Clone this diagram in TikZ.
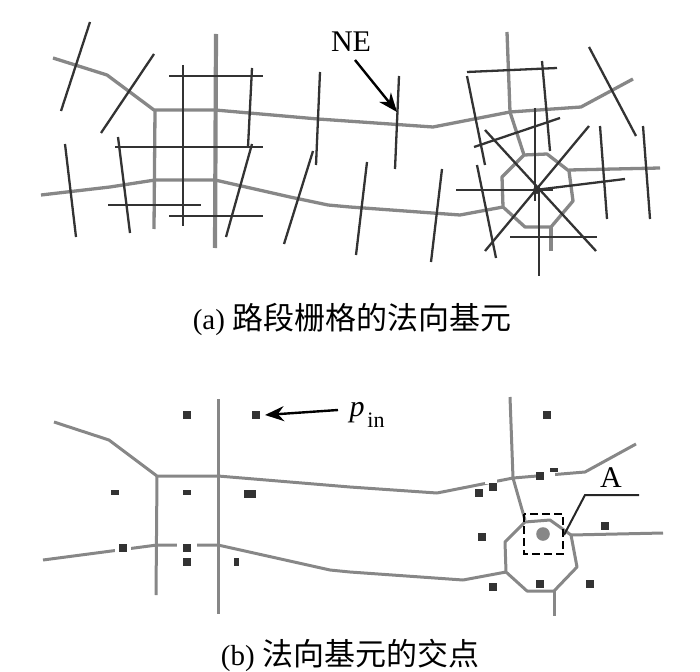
\documentclass[tikz,border=0pt]{standalone}
\usepackage{fontspec}
\setmainfont{Liberation Serif}
\newfontfamily\cjk{Noto Sans CJK SC}
\usetikzlibrary{arrows.meta}
\definecolor{roadc}{gray}{0.53}
\definecolor{normc}{gray}{0.2}
\tikzset{
  road/.style={draw=roadc,line width=3.3pt,line join=round},
  roadb/.style={draw=roadc,line width=3pt,line join=round},
  normal/.style={draw=normc,line width=2.3pt},
  lab/.style={font=\fontsize{30}{32}\selectfont,inner sep=0pt},
  capt/.style={inner sep=0pt,anchor=base,font=\fontsize{29}{32}\selectfont},
  arr/.style={draw=black,line width=2.4pt,-{Stealth[length=19pt,width=15pt]}},
}
\newcommand{\rc}[4]{\fill[normc] (#1-#3/2,#2-#4/2) rectangle ++(#3,#4);}
\newcommand{\wc}[4]{\fill[white] (#1-#3/2,#2-#4/2) rectangle ++(#3,#4);}
\begin{document}
\begin{tikzpicture}[x=1pt,y=-1pt]
\useasboundingbox (0,0) rectangle (700,671);
% (a) roads
\draw[road] (53,58)--(107,75)--(154,110)--(215,110)--(318,119)--(433,127)--(510,112)--(581,107)--(633,79);
\draw[road] (41,195)--(110,187)--(155,180)--(215,180)--(290,197)--(328,205)--(350,207)--(460,215)--(503,207);
\draw[road] (155,110)--(154,229);
\draw[road,line width=4.2pt] (216,34)--(215,248);
\draw[road] (507,32)--(510,112)--(524,155);
\draw[road] (524,155)--(547,154)--(569,171)--(573,201)--(551,227)--(525,227)--(503,207)--(502,177)--cycle;
\draw[road] (569,170)--(660,168);
\draw[road] (551,227)--(551,251);
% (a) normals
\foreach \a/\b/\c/\d in {90/22/61/111,154/54/101/133,65/144/76/237,118/137/130/233,169/76/263/76,115/147/263/147,108/205/201/205,169/216/263/216,183/65/183/226,252/68/248/147,252/144/226/237,320/72/316/165,313/151/284/244,399/76/395/169,367/162/356/255,442/169/431/262,467/72/557/68,467/76/485/165,542/61/550/151,474/147/560/118,485/130/596/251,589/126/485/251,535/108/535/201,539/188/539/276,456/190/553/190,535/190/625/179,510/237/597/237,477/165/496/258,600/126/607/219,643/126/650/219,589/47/636/136}
  \draw[normal] (\a,\b)--(\c,\d);
\fill[normc] (537,190) circle (4pt);
\node[lab] (ne) at (351,42) {NE};
\coordinate (neend) at (397,112);
\draw[arr] (355,60)--(neend);
\node[capt] (capa) at (352,329) {(a) {\cjk\fontsize{31}{32}\selectfont 路段栅格的法向基元}};
% (b) roads
\draw[roadb] (54,422)--(109,440)--(157,476)--(218,476)--(350,487)--(437,493)--(513,478)--(585,472)--(636,444);
\draw[roadb] (43,560)--(157,545)--(218,545)--(330,570)--(350,572)--(463,580)--(506,572);
\draw[roadb] (157,476)--(156,595);
\draw[roadb] (218,399)--(218,614);
\draw[roadb] (510,397)--(513,478)--(525,520);
\draw[roadb] (525,522)--(550,520)--(571,535)--(577,567)--(554,591)--(527,591)--(506,572)--(505,542)--cycle;
\draw[roadb] (571,535)--(663,533);
\draw[roadb] (554,591)--(554,616);
% (b) gaps in the roads
\wc{123}{548}{16}{12}
\wc{187}{548}{20}{10}
\wc{491}{481}{12}{6}
\wc{549}{475}{12}{5}
% (b) intersection points
\foreach \a/\b in {187/415,256/415,123/548,187/548,187/562,547/415,540/476,493/487,479/493,482/537,605/526,540/584,493/587,590/584}
  \fill[normc] (\a-4,\b-4) rectangle ++(8,8);
\rc{115}{492}{8}{5}
\rc{187}{492}{8}{5}
\rc{250}{494}{12}{8}
\rc{236}{562}{5}{8}
\rc{554}{470}{8}{4}
% (b) annotation
\node[lab,font=\itshape\fontsize{30}{32}\selectfont] (pin) at (357,413) {p};
\node[lab,font=\fontsize{22}{24}\selectfont] (pinsub) at (376,420) {in};
\coordinate (pend) at (265,415);
\draw[arr] (338,410)--(pend);
\draw[black,line width=2.4pt,dash pattern=on 8pt off 4pt] (524,514) rectangle (563,554);
\fill[roadc] (543,534) circle (6.8pt);
\node[lab] (a) at (611,478) {A};
\coordinate (l1) at (564,535);
\coordinate (l2) at (585,495);
\coordinate (l3) at (639,495);
\draw[black!85,line width=2pt] (l1)--(l2)--(l3);
\node[capt] (capb) at (350,665) {(b) {\cjk\fontsize{31}{32}\selectfont 法向基元的交点}};
\end{tikzpicture}
\end{document}
